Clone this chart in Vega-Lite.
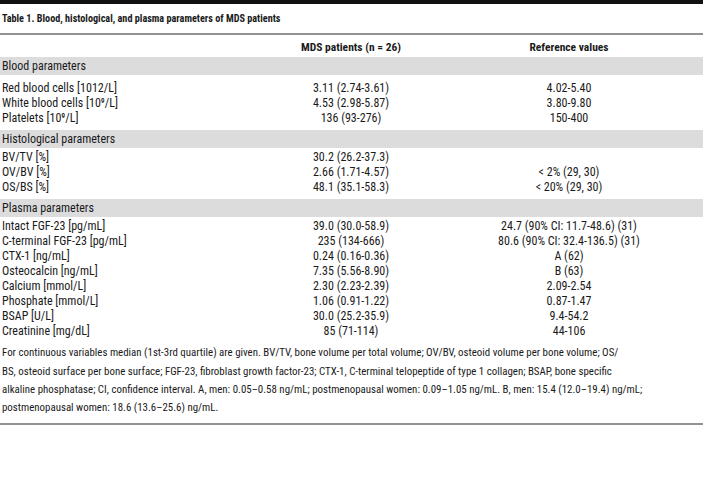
{
  "$schema": "https://vega.github.io/schema/vega-lite/v6.json",
  "width": 703,
  "height": 493,
  "padding": 0,
  "autosize": "none",
  "background": "white",
  "config": {"view": {"stroke": null}, "text": {"font": "Liberation Sans Narrow, Roboto Condensed, Roboto", "fontSize": 12, "color": "#1a1a1a"}},
  "data": {"values": [
    {"row": 0, "kind": "bar"},
    {"row": 1, "col": 0, "kind": "title", "text": "Table 1. Blood, histological, and plasma parameters of MDS patients"},
    {"row": 2, "kind": "line"},
    {"row": 3, "col": 1, "kind": "head", "text": "MDS patients (n = 26)"},
    {"row": 3, "col": 2, "kind": "head", "text": "Reference values"},
    {"row": 4, "kind": "band"},
    {"row": 4, "col": 0, "kind": "label", "text": "Blood parameters"},
    {"row": 5, "col": 0, "kind": "label", "text": "Red blood cells [1012/L]"},
    {"row": 5, "col": 1, "kind": "cell", "text": "3.11 (2.74-3.61)"},
    {"row": 5, "col": 2, "kind": "cell", "text": "4.02-5.40"},
    {"row": 6, "col": 0, "kind": "label", "text": "White blood cells [10⁹/L]"},
    {"row": 6, "col": 1, "kind": "cell", "text": "4.53 (2.98-5.87)"},
    {"row": 6, "col": 2, "kind": "cell", "text": "3.80-9.80"},
    {"row": 7, "col": 0, "kind": "label", "text": "Platelets [10⁹/L]"},
    {"row": 7, "col": 1, "kind": "cell", "text": "136 (93-276)"},
    {"row": 7, "col": 2, "kind": "cell", "text": "150-400"},
    {"row": 8, "kind": "band"},
    {"row": 8, "col": 0, "kind": "label", "text": "Histological parameters"},
    {"row": 9, "col": 0, "kind": "label", "text": "BV/TV [%]"},
    {"row": 9, "col": 1, "kind": "cell", "text": "30.2 (26.2-37.3)"},
    {"row": 10, "col": 0, "kind": "label", "text": "OV/BV [%]"},
    {"row": 10, "col": 1, "kind": "cell", "text": "2.66 (1.71-4.57)"},
    {"row": 10, "col": 2, "kind": "cell", "text": "< 2% (29, 30)"},
    {"row": 11, "col": 0, "kind": "label", "text": "OS/BS [%]"},
    {"row": 11, "col": 1, "kind": "cell", "text": "48.1 (35.1-58.3)"},
    {"row": 11, "col": 2, "kind": "cell", "text": "< 20% (29, 30)"},
    {"row": 12, "kind": "band"},
    {"row": 12, "col": 0, "kind": "label", "text": "Plasma parameters"},
    {"row": 13, "col": 0, "kind": "label", "text": "Intact FGF-23 [pg/mL]"},
    {"row": 13, "col": 1, "kind": "cell", "text": "39.0 (30.0-58.9)"},
    {"row": 13, "col": 2, "kind": "cell", "text": "24.7 (90% CI: 11.7-48.6) (31)"},
    {"row": 14, "col": 0, "kind": "label", "text": "C-terminal FGF-23 [pg/mL]"},
    {"row": 14, "col": 1, "kind": "cell", "text": "235 (134-666)"},
    {"row": 14, "col": 2, "kind": "cell", "text": "80.6 (90% CI: 32.4-136.5) (31)"},
    {"row": 15, "col": 0, "kind": "label", "text": "CTX-1 [ng/mL]"},
    {"row": 15, "col": 1, "kind": "cell", "text": "0.24 (0.16-0.36)"},
    {"row": 15, "col": 2, "kind": "cell", "text": "A (62)"},
    {"row": 16, "col": 0, "kind": "label", "text": "Osteocalcin [ng/mL]"},
    {"row": 16, "col": 1, "kind": "cell", "text": "7.35 (5.56-8.90)"},
    {"row": 16, "col": 2, "kind": "cell", "text": "B (63)"},
    {"row": 17, "col": 0, "kind": "label", "text": "Calcium [mmol/L]"},
    {"row": 17, "col": 1, "kind": "cell", "text": "2.30 (2.23-2.39)"},
    {"row": 17, "col": 2, "kind": "cell", "text": "2.09-2.54"},
    {"row": 18, "col": 0, "kind": "label", "text": "Phosphate [mmol/L]"},
    {"row": 18, "col": 1, "kind": "cell", "text": "1.06 (0.91-1.22)"},
    {"row": 18, "col": 2, "kind": "cell", "text": "0.87-1.47"},
    {"row": 19, "col": 0, "kind": "label", "text": "BSAP [U/L]"},
    {"row": 19, "col": 1, "kind": "cell", "text": "30.0 (25.2-35.9)"},
    {"row": 19, "col": 2, "kind": "cell", "text": "9.4-54.2"},
    {"row": 20, "col": 0, "kind": "label", "text": "Creatinine [mg/dL]"},
    {"row": 20, "col": 1, "kind": "cell", "text": "85 (71-114)"},
    {"row": 20, "col": 2, "kind": "cell", "text": "44-106"},
    {"row": 21, "col": 0, "kind": "foot", "text": "For continuous variables median (1st-3rd quartile) are given. BV/TV, bone volume per total volume; OV/BV, osteoid volume per bone volume; OS/"},
    {"row": 22, "col": 0, "kind": "foot", "text": "BS, osteoid surface per bone surface; FGF-23, fibroblast growth factor-23; CTX-1, C-terminal telopeptide of type 1 collagen; BSAP, bone specific"},
    {"row": 23, "col": 0, "kind": "foot", "text": "alkaline phosphatase; CI, confidence interval. A, men: 0.05–0.58 ng/mL; postmenopausal women: 0.09–1.05 ng/mL. B, men: 15.4 (12.0–19.4) ng/mL;"},
    {"row": 24, "col": 0, "kind": "foot", "text": "postmenopausal women: 18.6 (13.6–25.6) ng/mL."},
    {"row": 25, "kind": "line"}
  ]},
  "encoding": {
    "y": {"field": "row", "type": "quantitative", "axis": null,
      "scale": {"domain": [0,1,2,3,4,5,6,7,8,9,10,11,12,13,14,15,16,17,18,19,20,21,22,23,24,25],
                "range": [2,19,34,48,66,88,103,118,139,157,172,187,208,226,241,256,271,286,301,316,331,353,372,390,408,424]}}
  },
  "layer": [
    {"transform": [{"filter": "datum.kind === 'band'"}],
     "mark": {"type": "tick", "orient": "horizontal", "size": 703, "thickness": 18, "color": "#dcdcdd", "opacity": 1}},
    {"transform": [{"filter": "datum.kind === 'bar'"}],
     "mark": {"type": "tick", "orient": "horizontal", "size": 703, "thickness": 4, "color": "#111111", "opacity": 1}},
    {"transform": [{"filter": "datum.kind === 'line'"}],
     "mark": {"type": "tick", "orient": "horizontal", "size": 703, "thickness": 1.5, "color": "#6e6e6e", "opacity": 1}},
    {"transform": [{"filter": "datum.kind === 'label'"}],
     "mark": {"type": "text", "align": "left", "baseline": "middle"},
     "encoding": {"x": {"field": "col", "type": "quantitative", "axis": null, "scale": {"domain": [0,1,2], "range": [2,351,569]}}, "text": {"field": "text"}}},
    {"transform": [{"filter": "datum.kind === 'foot'"}],
     "mark": {"type": "text", "align": "left", "baseline": "middle", "fontSize": 10.9},
     "encoding": {"x": {"field": "col", "type": "quantitative", "axis": null, "scale": {"domain": [0,1,2], "range": [2,351,569]}}, "text": {"field": "text"}}},
    {"transform": [{"filter": "datum.kind === 'title'"}],
     "mark": {"type": "text", "align": "left", "baseline": "middle", "fontWeight": "bold", "fontSize": 10.2},
     "encoding": {"x": {"field": "col", "type": "quantitative", "axis": null, "scale": {"domain": [0,1,2], "range": [2,351,569]}}, "text": {"field": "text"}}},
    {"transform": [{"filter": "datum.kind === 'cell'"}],
     "mark": {"type": "text", "align": "center", "baseline": "middle"},
     "encoding": {"x": {"field": "col", "type": "quantitative", "axis": null, "scale": {"domain": [0,1,2], "range": [2,351,569]}}, "text": {"field": "text"}}},
    {"transform": [{"filter": "datum.kind === 'head'"}],
     "mark": {"type": "text", "align": "center", "baseline": "middle", "fontWeight": "bold", "fontSize": 11.5},
     "encoding": {"x": {"field": "col", "type": "quantitative", "axis": null, "scale": {"domain": [0,1,2], "range": [2,351,569]}}, "text": {"field": "text"}}}
  ]
}
